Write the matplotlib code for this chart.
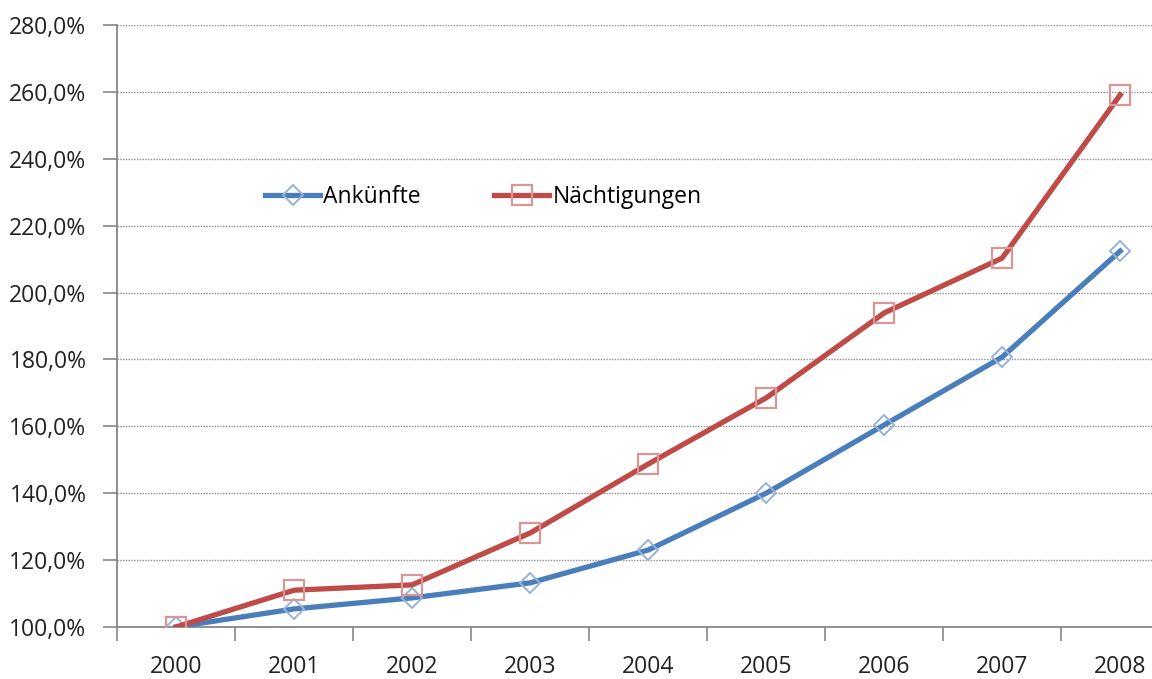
import matplotlib
matplotlib.use('Agg')
import matplotlib.pyplot as plt
from matplotlib.ticker import FuncFormatter, FixedLocator

plt.rcParams['font.family'] = ['Open Sans', 'DejaVu Sans']

years = ['2000', '2001', '2002', '2003', '2004', '2005', '2006', '2007', '2008']
ankuenfte = [100.0, 105.4, 108.7, 113.2, 123.0, 140.0, 160.4, 180.7, 212.4]
naechtigungen = [100.0, 111.0, 112.6, 128.1, 148.7, 168.5, 193.9, 210.3, 259.1]

fig = plt.figure(figsize=(11.52, 6.79), dpi=100)
ax = fig.add_axes([0.1016, 0.0766, 0.922, 0.8866])

x = list(range(len(years)))
ax.plot(x, ankuenfte, color='#4A7EBB', lw=3.8, marker='D', markersize=10,
        markerfacecolor='none', markeredgecolor='#95B3D7', markeredgewidth=1.4,
        label='Ankünfte', zorder=3)
ax.plot(x, naechtigungen, color='#BE4B48', lw=3.8, marker='s', markersize=14,
        markerfacecolor='none', markeredgecolor='#D99694', markeredgewidth=1.6,
        label='Nächtigungen', zorder=3)

ax.set_xlim(-0.5, 8.5)
ax.set_ylim(100, 280)
ax.set_yticks(range(100, 281, 20))
ax.yaxis.set_major_formatter(FuncFormatter(lambda v, p: '{:.1f}%'.format(v).replace('.', ',')))
ax.set_xticks(x)
ax.set_xticklabels(years)
ax.xaxis.set_minor_locator(FixedLocator([i + 0.5 for i in range(-1, 9)]))
ax.tick_params(axis='x', which='major', length=0, labelsize=16.5, pad=20, colors='#222222')
ax.tick_params(axis='x', which='minor', length=10, width=1.2, color='#868686', direction='out')
ax.tick_params(axis='y', length=10, width=1.2, color='#868686', labelsize=16.5, pad=12, labelcolor='#222222')

for v in range(120, 281, 20):
    ax.axhline(v, color='#8c8c8c', lw=1.0, ls=(0, (1, 1)), zorder=1)

for s in ['top', 'right']:
    ax.spines[s].set_visible(False)
for s in ['left', 'bottom']:
    ax.spines[s].set_color('#868686')
    ax.spines[s].set_linewidth(1.3)

ax.legend(loc='center', bbox_to_anchor=(0.345, 0.715), ncol=2, frameon=False,
          fontsize=16.5, handlelength=2.4, columnspacing=3.2, handletextpad=0.15)

fig.savefig('out.png', dpi=100)
